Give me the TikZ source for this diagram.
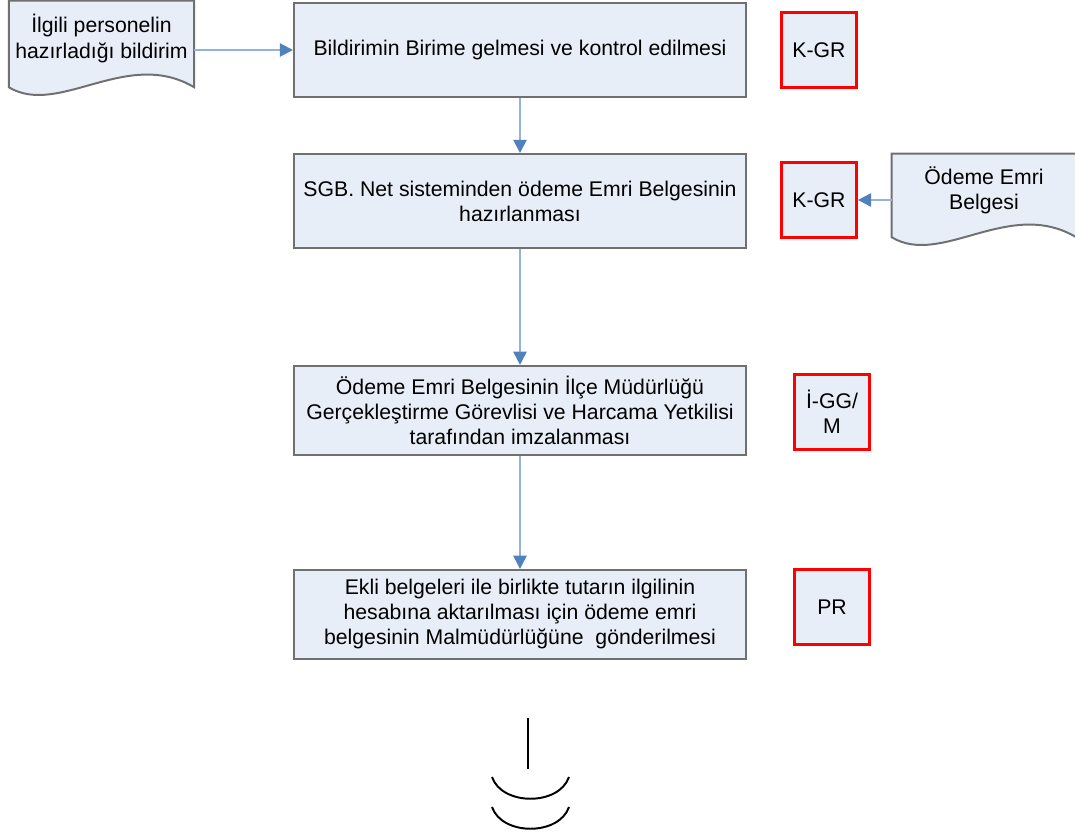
\documentclass[tikz,border=0pt]{standalone}
\usepackage{fontspec}
\setmainfont{Liberation Sans}
\usepackage{tikz}
\usetikzlibrary{arrows.meta, backgrounds}

\definecolor{boxfill}{RGB}{232,238,247}
\definecolor{boxline}{RGB}{112,112,112}
\definecolor{flowline}{RGB}{149,179,215}
\definecolor{flowhead}{RGB}{79,129,189}
\definecolor{codered}{RGB}{255,0,0}

% wavy outline of a document node
\newcommand{\docoutline}[1]{%
  \draw[docline] (#1.north west) -- ([yshift=-0.275cm]#1.south west)
    .. controls +(1.25,-0.75) and +(-1.675,1.0) .. ([yshift=-0.275cm]#1.south east)
    -- (#1.north east) -- cycle;}

\begin{document}
\begin{tikzpicture}[
    every node/.style={font=\fontsize{15.1}{17.8}\selectfont, align=center, inner sep=0pt},
    stepbox/.style={draw=boxline, fill=boxfill, line width=1.4pt, minimum width=11.3cm},
    codebox/.style={draw=codered, fill=boxfill, line width=2.4pt, minimum width=1.86cm, minimum height=1.86cm},
    docbox/.style={minimum width=4.62cm},
    docline/.style={draw=boxline, fill=boxfill, line width=1.4pt},
    flow/.style={draw=flowline, line width=1.4pt, -{Triangle[length=0.33cm, width=0.33cm, color=flowhead]}},
    breakline/.style={draw=black, line width=1.4pt}
]
    \useasboundingbox (0,0) rectangle (26.875,-20.825);

    % Process steps
    \node[stepbox, minimum height=2.35cm] (box1) at (13,-1.25) {Bildirimin Birime gelmesi ve kontrol edilmesi};
    \node[stepbox, minimum height=2.35cm] (box2) at (13,-5.025) {SGB. Net sisteminden ödeme Emri Belgesinin\\hazırlanması};
    \node[stepbox, minimum height=2.225cm] (box3) at (13,-10.26) {Ödeme Emri Belgesinin İlçe Müdürlüğü\\Gerçekleştirme Görevlisi ve Harcama Yetkilisi\\tarafından imzalanması};
    \node[stepbox, minimum height=2.225cm] (box4) at (13,-15.36) {Ekli belgeleri ile birlikte tutarın ilgilinin\\hesabına aktarılması için ödeme emri\\belgesinin Malmüdürlüğüne~ gönderilmesi};

    % Codes
    \node[codebox] (kgr1) at (20.475,-1.25) {K-GR};
    \node[codebox] (kgr2) at (20.475,-5.0) {K-GR};
    \node[codebox] (iggm) at (20.8,-10.3) {İ-GG/\\M};
    \node[codebox] (pr) at (20.8,-15.175) {PR};

    % Documents
    \node[docbox, minimum height=1.875cm] (ldoc) at (2.5375,-0.9625) {İlgili personelin\\hazırladığı bildirim};
    \node[docbox, minimum width=4.6cm, minimum height=1.8cm] (rdoc) at (24.6,-4.75) {Ödeme Emri\\Belgesi};
    \begin{scope}[on background layer]
        \docoutline{ldoc}
        \docoutline{rdoc}
    \end{scope}

    % Arrows
    \draw[flow] (ldoc.east |- box1) -- (box1.west);
    \draw[flow] (rdoc.west |- kgr2) -- (kgr2.east);
    \draw[flow] (box1) -- (box2);
    \draw[flow] (box2) -- (box3);
    \draw[flow] (box3) -- (box4);

    % Break at the bottom
    \coordinate (brk) at (13.2,-17.95);
    \draw[breakline] (brk) -- ++(0,-1.275);
    \draw[breakline] (12.3,-19.425) .. controls (12.55,-20.15) and (13.975,-20.15) .. (14.225,-19.425);
    \draw[breakline] (12.3,-20.175) .. controls (12.55,-20.9) and (13.975,-20.9) .. (14.225,-20.175);
\end{tikzpicture}
\end{document}
